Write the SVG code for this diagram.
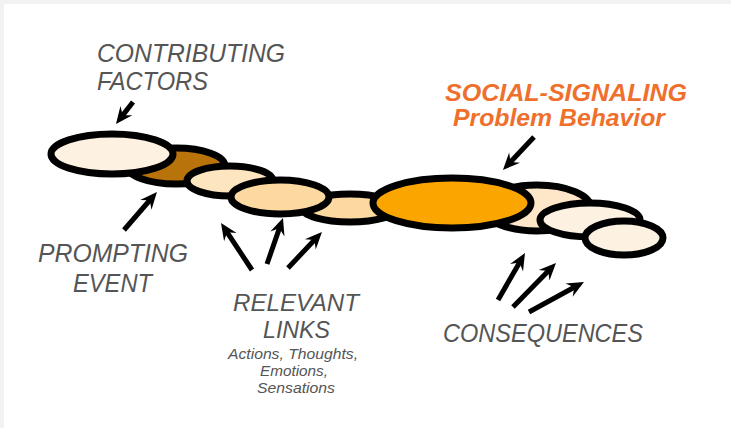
<svg xmlns="http://www.w3.org/2000/svg" width="731" height="428" viewBox="0 0 731 428">
<defs>
<style>
.link{stroke:#000;stroke-width:7}
.arr{fill:none;stroke:#000;stroke-width:5;stroke-linecap:butt;marker-end:url(#head)}
.lbl{font-family:"Liberation Sans",Arial,sans-serif;font-style:italic;fill:#555;font-size:26px}
.tight{font-size:23px}
.sub{font-family:"Liberation Sans",Arial,sans-serif;font-style:italic;fill:#555;font-size:14px}
.hot{font-family:"Liberation Sans",Arial,sans-serif;font-style:italic;font-weight:bold;fill:#ef6f2c;font-size:23px}
</style>
<marker id="head" markerUnits="userSpaceOnUse" viewBox="-28 -9 30 18" refX="-10" refY="0" markerWidth="30" markerHeight="18" orient="auto">
<path d="M0,0 L-17,-7.5 L-11,0 L-17,7.5 Z" fill="#000"/>
</marker>
</defs>
<rect width="731" height="428" fill="#f2f2f2"/>
<rect x="4" y="4" width="727" height="424" fill="#fff"/>

<g id="chain">
<g id="link2"><ellipse class="link" cx="176" cy="166" rx="49" ry="18" fill="#b8730a"/></g>
<g id="link1"><ellipse class="link" cx="112" cy="154" rx="61" ry="20" fill="#fdf1e2"/></g>
<g id="link3"><ellipse class="link" cx="230" cy="181" rx="43" ry="15" fill="#fde5c0"/></g>
<g id="link5"><ellipse class="link" cx="350" cy="208" rx="48" ry="14" fill="#fdd9a2"/></g>
<g id="link4"><ellipse class="link" cx="280" cy="197" rx="49" ry="17" fill="#fdd9a2"/></g>
<g id="link7"><ellipse class="link" cx="537" cy="208" rx="54" ry="23" fill="#fde7c8"/></g>
<g id="link6"><ellipse class="link" cx="452" cy="203" rx="79" ry="25" fill="#fba500"/></g>
<g id="link8"><ellipse class="link" cx="590" cy="220" rx="50" ry="17" fill="#fdf1e2"/></g>
<g id="link9"><ellipse class="link" cx="624" cy="238" rx="39" ry="17" fill="#fdf1e2"/></g>
</g>

<g id="connectors">
<path class="arr" d="M133,102 L122.1,116.1"/>
<path class="arr" d="M124,230 L150.4,199.5"/>
<path class="arr" d="M252,270 L226.5,231.3"/>
<path class="arr" d="M267,264 L279.7,227.4"/>
<path class="arr" d="M288,268 L315.1,239.3"/>
<path class="arr" d="M534,137 L509.8,162.7"/>
<path class="arr" d="M498,300 L520,261.7"/>
<path class="arr" d="M513,307 L549,270.2"/>
<path class="arr" d="M529,312 L575.2,286.8"/>
</g>

<g id="contributing">
<text class="lbl" x="97" y="62" textLength="188" lengthAdjust="spacingAndGlyphs">CONTRIBUTING</text>
<text class="lbl" x="97" y="90" textLength="111" lengthAdjust="spacingAndGlyphs">FACTORS</text>
</g>
<g id="prompting">
<text class="lbl" x="38" y="262" textLength="150" lengthAdjust="spacingAndGlyphs">PROMPTING</text>
<text class="lbl" x="73" y="292" textLength="79" lengthAdjust="spacingAndGlyphs">EVENT</text>
</g>
<g id="relevant">
<text class="lbl tight" x="233" y="311" textLength="126" lengthAdjust="spacingAndGlyphs">RELEVANT</text>
<text class="lbl tight" x="263" y="338" textLength="67" lengthAdjust="spacingAndGlyphs">LINKS</text>
<text class="sub" x="228" y="359" textLength="130" lengthAdjust="spacingAndGlyphs">Actions, Thoughts,</text>
<text class="sub" x="260" y="376" textLength="68" lengthAdjust="spacingAndGlyphs">Emotions,</text>
<text class="sub" x="257" y="393" textLength="78" lengthAdjust="spacingAndGlyphs">Sensations</text>
</g>
<g id="consequences">
<text class="lbl" x="443" y="342" textLength="200" lengthAdjust="spacingAndGlyphs">CONSEQUENCES</text>
</g>
<g id="social">
<text class="hot" x="445" y="101" textLength="242" lengthAdjust="spacingAndGlyphs">SOCIAL-SIGNALING</text>
<text class="hot" x="453" y="126" textLength="212" lengthAdjust="spacingAndGlyphs">Problem Behavior</text>
</g>
</svg>
